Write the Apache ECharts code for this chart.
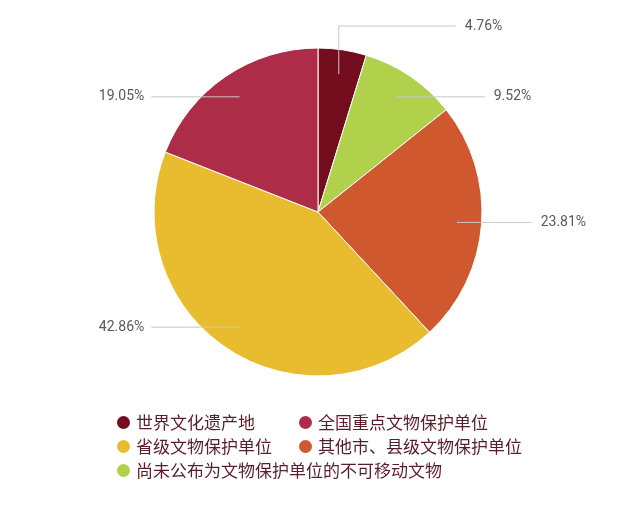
<!DOCTYPE html>
<html>
<head>
<meta charset="utf-8">
<script src="https://cdn.jsdelivr.net/npm/echarts@6/dist/echarts.min.js"></script>
<style>
  html, body { margin: 0; padding: 0; background: #fff; }
  #container { width: 640px; height: 512px; }
</style>
</head>
<body>
<div id="container"></div>
<script>
// 数据（顺时针，从正上方开始）
var names = ['世界文化遗产地', '尚未公布为文物保护单位的不可移动文物', '其他市、县级文物保护单位', '省级文物保护单位', '全国重点文物保护单位'];
var values = [1, 2, 5, 9, 4];
var colors = ['#730d1d', '#b1d04b', '#d0582f', '#e9bc2f', '#ad2c48'];
// 图例两列
var legendCol1 = ['世界文化遗产地', '省级文物保护单位', '尚未公布为文物保护单位的不可移动文物'];
var legendCol2 = ['全国重点文物保护单位', '其他市、县级文物保护单位'];

var cx = 318, cy = 212, R = 164;
var total = values.reduce(function (a, b) { return a + b; }, 0);

// 每块扇区的中间角度（从正上方顺时针）
var midAngles = [];
var cum = 0;
for (var i = 0; i < values.length; i++) {
    midAngles.push(2 * Math.PI * (cum + values[i] / 2) / total);
    cum += values[i];
}

var myChart = echarts.init(document.getElementById('container'));

// 引导线从扇区内部开始，水平引出
function layoutLabel(params) {
    var t = midAngles[params.dataIndex];
    var rho = R * 0.85;
    var ax = cx + rho * Math.sin(t);
    var ay = cy - rho * Math.cos(t);
    var right = Math.sin(t) >= 0;
    var pts, ly, ex;
    if (Math.cos(t) > 0.95) {
        ly = cy - R - 22;
        ex = cx + R * 0.84;
        pts = [[ax, ay], [ax, ly], [ex, ly]];
    } else {
        ly = ay;
        var dx = Math.sqrt(Math.max(R * R - (ly - cy) * (ly - cy), 0)) + 50;
        ex = right ? cx + dx : cx - dx;
        pts = [[ax, ay], [ex, ly]];
    }
    return {
        x: right ? ex + 9 : ex - 7,
        y: ly,
        align: right ? 'left' : 'right',
        verticalAlign: 'middle',
        labelLinePoints: pts
    };
}

var pieData = names.map(function (n, i) {
    return { name: n, value: values[i], itemStyle: { color: colors[i] } };
});

var legendBase = {
    orient: 'vertical',
    icon: 'circle',
    itemWidth: 15,
    itemHeight: 15,
    itemGap: 7,
    selectedMode: false,
    top: 409,
    textStyle: {
        fontFamily: 'Noto Sans CJK SC',
        fontSize: 17,
        lineHeight: 17,
        color: '#5a1e2b'
    }
};

var options = {
    backgroundColor: '#fff',
    animation: false,
    legend: [
        echarts.util.merge({ left: 110, data: legendCol1 }, legendBase),
        echarts.util.merge({ left: 292, data: legendCol2 }, legendBase)
    ],
    series: [
        {
            type: 'pie',
            center: [cx, cy],
            radius: R,
            startAngle: 90,
            clockwise: true,
            itemStyle: { borderColor: '#fff', borderWidth: 1 },
            label: { show: false },
            labelLine: { show: false },
            data: pieData
        },
        {
            // 只画标签和引导线，叠在扇区上面
            type: 'pie',
            z: 3,
            silent: true,
            center: [cx, cy],
            radius: R,
            startAngle: 90,
            clockwise: true,
            avoidLabelOverlap: false,
            itemStyle: { color: 'rgba(0,0,0,0)', borderWidth: 0 },
            label: {
                show: true,
                position: 'outside',
                formatter: function (p) {
                    return (p.value / total * 100).toFixed(2) + '%';
                },
                fontFamily: 'Roboto',
                fontSize: 14,
                color: '#595959'
            },
            labelLine: {
                show: true,
                length: 10,
                length2: 40,
                lineStyle: { color: '#c8c8c8', width: 1 }
            },
            labelLayout: layoutLabel,
            data: names.map(function (n, i) { return { name: n, value: values[i] }; })
        }
    ]
};

myChart.setOption(options);
</script>
</body>
</html>
